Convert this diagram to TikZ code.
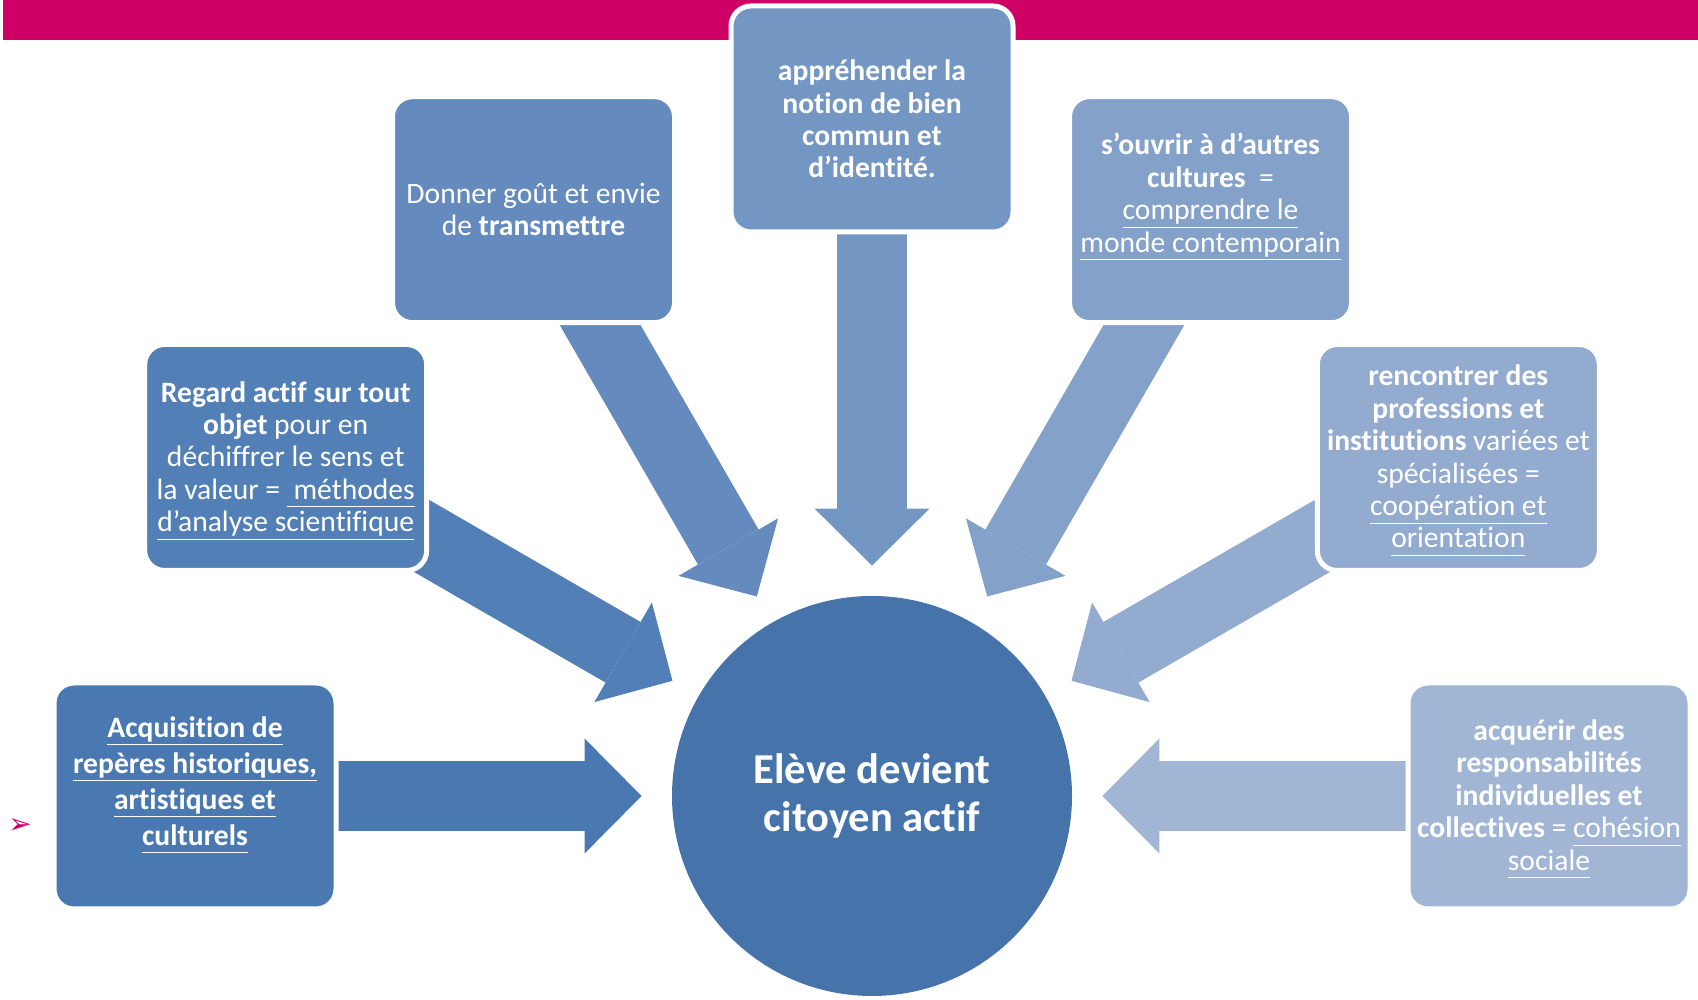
\documentclass[tikz,border=0pt]{standalone}
\usepackage{fontspec}
\setmainfont{Carlito}[Ligatures=NoCommon]
\newfontfamily\dingfont{DejaVu Sans}
\usetikzlibrary{arrows.meta,calc,backgrounds}
\definecolor{barpink}{RGB}{206,0,102}
\definecolor{bluecirc}{RGB}{70,116,170}
\definecolor{blueA}{RGB}{74,121,178}
\definecolor{blueB}{RGB}{82,127,182}
\definecolor{blueC}{RGB}{101,138,189}
\definecolor{blueD}{RGB}{116,150,195}
\definecolor{blueE}{RGB}{131,161,201}
\definecolor{blueF}{RGB}{146,171,207}
\definecolor{blueG}{RGB}{161,182,213}
\newcommand{\undl}[1]{\underline{\vphantom{p}#1}}

\begin{document}
\begin{tikzpicture}[x=0.5pt,y=0.5pt,
	box/.style={rounded corners=10pt,draw=white,line width=2.5pt,text=white,align=center,
		minimum width=141pt,minimum height=113pt,inner sep=2pt,font=\fontsize{14.8}{16.2}\selectfont},
	bigarrow/.style={line width=35pt,-{Triangle[length=28.5pt,width=57.5pt,line width=0pt]},shorten >=15pt}]
	\useasboundingbox (0,0) rectangle (1698,1000);
	\fill[barpink] (3,960) rectangle (1698,1000);
	\node[circle,fill=bluecirc,minimum size=200pt,text=white,align=center,
		font=\fontsize{21.3}{23.6}\selectfont\bfseries] (eleve) at (872,204)
		{Elève devient\\citoyen actif};
	\node[box,fill=blueA,font=\fontsize{14.8}{18}\selectfont,text depth=15pt] (reperes) at ($(eleve)+(180:677)$)
		{\textbf{\undl{Acquisition de}}\\\textbf{\undl{repères historiques,}}\\\textbf{\undl{artistiques et}}\\\textbf{\undl{culturels}}};
	\node[box,fill=blueB,text depth=1pt] (regard) at ($(eleve)+(150:677)$)
		{\textbf{Regard actif sur tout}\\\textbf{objet} pour en\\déchiffrer le sens et\\la valeur = \undl{\ méthodes}\\\undl{d’analyse scientifique}};
	\node[box,fill=blueC] (donner) at ($(eleve)+(120:677)$)
		{Donner goût et envie\\de \textbf{transmettre}};
	\node[box,fill=blueD] (notion) at ($(eleve)+(90:677)$)
		{\textbf{appréhender la}\\\textbf{notion de bien}\\\textbf{commun et}\\\textbf{d’identité.}};
	\node[box,fill=blueE,text depth=17pt] (ouvrir) at ($(eleve)+(60:677)$)
		{\textbf{s’ouvrir à d’autres}\\\textbf{cultures}\ \ =\\\undl{comprendre le}\\\undl{monde contemporain}};
	\node[box,fill=blueF,text depth=1pt] (rencontre) at ($(eleve)+(30:677)$)
		{\textbf{rencontrer des}\\\textbf{professions et}\\\textbf{institutions} variées et\\spécialisées =\\\undl{coopération et}\\\undl{orientation}};
	\node[box,fill=blueG,text depth=1pt] (acquerir) at ($(eleve)+(0:677)$)
		{\textbf{acquérir des}\\\textbf{responsabilités}\\\textbf{individuelles et}\\\textbf{collectives} = \undl{cohésion}\\\undl{sociale}};
	\node[text=barpink,font=\dingfont\fontsize{14}{14}\selectfont] (puce) at (20,174) {➢};
	\begin{scope}[on background layer]
		\foreach \n/\col in {reperes/blueA,regard/blueB,donner/blueC,notion/blueD,ouvrir/blueE,rencontre/blueF,acquerir/blueG}{
			\draw[bigarrow,\col] (\n.center) -- (eleve);
		}
	\end{scope}
\end{tikzpicture}
\end{document}
